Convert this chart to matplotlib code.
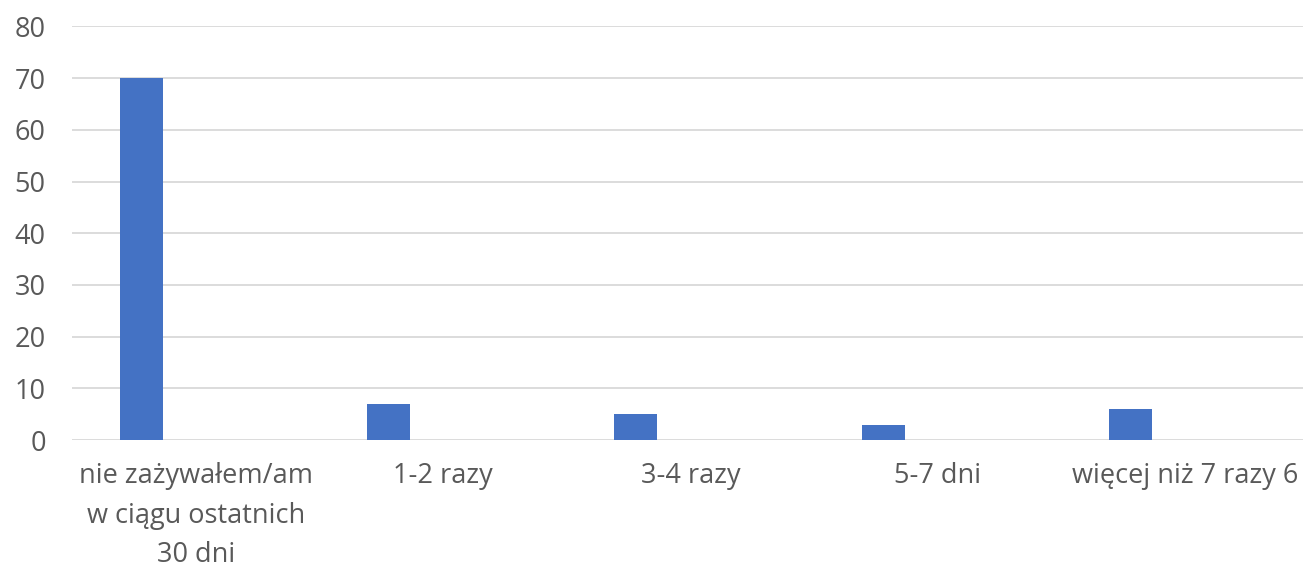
import matplotlib.pyplot as plt
import numpy as np

categories = ['nie zażywałem/am\nw ciągu ostatnich\n30 dni', '1-2 razy', '3-4 razy',
              '5-7 dni', 'więcej niż 7 razy 6']
values = [70, 7, 5, 3, 6]
yticks = [0, 10, 20, 30, 40, 50, 60, 70, 80]

plt.rcParams['font.family'] = ['Open Sans', 'DejaVu Sans']

fig = plt.figure(figsize=(13.03, 5.71), dpi=100)
ax = fig.add_axes([0.0553, 0.2294, 0.949, 0.7243])

x = np.arange(len(categories))
ax.bar(x - 0.22, values, width=0.174, color='#4472C4', zorder=3)

ax.set_xlim(-0.5, len(categories) - 0.5)
ax.set_ylim(0, 80)
ax.set_yticks(yticks)
for v in yticks:
    ax.axhline(v, color='#d9d9d9', linewidth=1.3, zorder=1)

ax.set_xticks(x)
ax.set_xticklabels(categories, linespacing=1.55)
ax.tick_params(axis='both', length=0, labelsize=19.5, colors='#595959')
ax.tick_params(axis='y', pad=19)
ax.tick_params(axis='x', pad=16)
for s in ax.spines.values():
    s.set_visible(False)

fig.savefig('out.png', dpi=100)
